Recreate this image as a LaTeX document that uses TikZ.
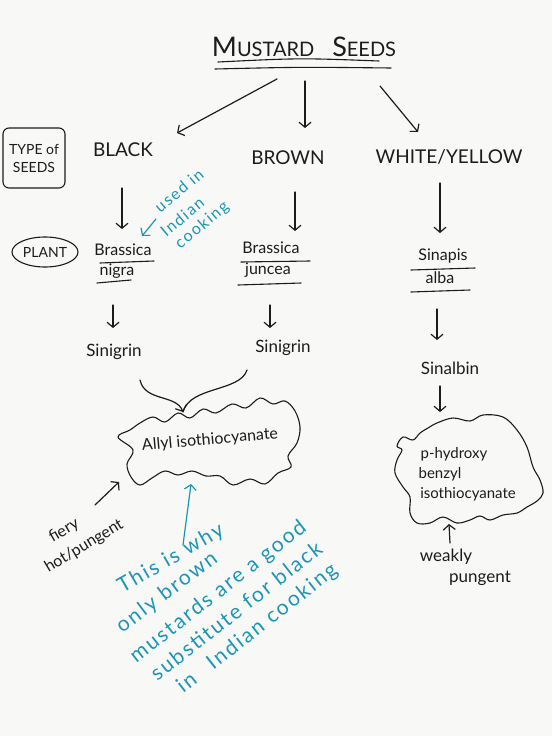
\documentclass[tikz,border=0pt]{standalone}
\usepackage{fontspec}
\setmainfont{Lato}
\newfontfamily\notefont{Lato}[LetterSpace=10]
\usetikzlibrary{arrows.meta,shapes.geometric}
\definecolor{ink}{RGB}{28,28,28}
\definecolor{tealink}{RGB}{28,150,182}
\definecolor{paper}{RGB}{248,248,247}
\begin{document}
\begin{tikzpicture}[x=1pt,y=-1pt,line width=1.2pt,line cap=round,
  lbl/.style={inner sep=1pt,text=ink,font=\fontsize{16}{18}\selectfont},
  capl/.style={lbl,font=\fontsize{19}{22}\selectfont},
  note/.style={inner sep=0pt,text=tealink,font=\notefont\fontsize{21}{24}\selectfont,anchor=base west},
  arr/.style={draw=ink,-{Straight Barb[length=5pt,width=12pt,line width=1.2pt]}},
  tarr/.style={draw=tealink,-{Straight Barb[length=5pt,width=12pt,line width=1.2pt]}},
  ul/.style={draw=ink,line width=1.1pt},
  cloud/.style={draw=ink,line width=1.1pt}]
\useasboundingbox[fill=paper] (0,0) rectangle (552,736);

% title
\node[lbl,font=\fontsize{20}{24}\selectfont] (title) at (304,47)
  {{\fontsize{27}{30}\selectfont M}USTARD\hspace{18pt}{\fontsize{27}{30}\selectfont S}EEDS};
\draw[ul] (218,62) .. controls (300,58) .. (379,61);
\draw[ul] (215,69) .. controls (300,67) .. (391,68);

% seed types
\node[capl] (black) at (123,150) {BLACK};
\node[capl] (brown) at (288,158) {BROWN};
\node[capl] (white) at (449,157) {WHITE/YELLOW};

\coordinate (t1) at (277,79);
\coordinate (t1e) at (177,133);
\coordinate (t2) at (305,81);
\coordinate (t2e) at (305,128);
\coordinate (t3) at (380,86);
\coordinate (t3e) at (418,132);
\draw[arr] (t1) -- (t1e);
\draw[arr] (t2) -- (t2e);
\draw[arr] (t3) -- (t3e);

% side labels
\node[draw=ink,rounded corners=6pt,line width=1.1pt,minimum width=62pt,minimum height=60pt,
  inner sep=1pt,text=ink,align=center,font=\fontsize{14}{18}\selectfont] (type) at (34,158)
  {TYPE of\\SEEDS};
\node[draw=ink,ellipse,line width=1.1pt,minimum width=66pt,minimum height=30pt,
  inner sep=1pt,text=ink,font=\fontsize{14}{16}\selectfont] (plant) at (45,252) {PLANT};

% plants
\node[lbl] (nigra1) at (123,250) {Brassica};
\node[lbl] (nigra2) at (117,271) {nigra};
\draw[ul] (100,263) -- (154,261);
\draw[ul] (97,283) -- (131,280);

\node[lbl] (jun1) at (271,248) {Brassica};
\node[lbl] (jun2) at (268,270) {juncea};
\draw[ul] (241,262) -- (310,261);
\draw[ul] (238,285) -- (301,283);

\node[lbl] (sin1) at (443,256) {Sinapis};
\node[lbl] (sin2) at (440,278) {alba};
\draw[ul] (411,270) -- (475,268);
\draw[ul] (411,292) -- (470,290);

\coordinate (b1) at (122,188); \coordinate (b1e) at (122,229);
\coordinate (b2) at (295,192); \coordinate (b2e) at (295,231);
\coordinate (b3) at (440,183); \coordinate (b3e) at (440,233);
\draw[arr] (b1) -- (b1e);
\draw[arr] (b2) -- (b2e);
\draw[arr] (b3) -- (b3e);

% used in indian cooking
\node[note,font=\notefont\fontsize{16}{20}\selectfont,rotate=40] (used1) at (160,214) {used in};
\node[note,font=\notefont\fontsize{16}{20}\selectfont,rotate=40] (used2) at (166,238) {Indian};
\node[note,font=\notefont\fontsize{16}{20}\selectfont,rotate=40] (used3) at (180,250) {cooking};
\coordinate (u1) at (156,219); \coordinate (u1e) at (142,236);
\draw[tarr] (u1) -- (u1e);

% glucosinolates
\node[lbl,font=\fontsize{17}{19}\selectfont] (sg1) at (114,352) {Sinigrin};
\node[lbl,font=\fontsize{17}{19}\selectfont] (sg2) at (283,348) {Sinigrin};
\node[lbl,font=\fontsize{17}{19}\selectfont] (salb) at (450,368) {Sinalbin};

\coordinate (c1) at (113,305); \coordinate (c1e) at (113,328);
\coordinate (c2) at (270,305); \coordinate (c2e) at (270,328);
\coordinate (c3) at (437,309); \coordinate (c3e) at (437,340);
\draw[arr] (c1) -- (c1e);
\draw[arr] (c2) -- (c2e);
\draw[arr] (c3) -- (c3e);

% allyl cloud
\draw[cloud] plot[smooth cycle,tension=0.6] coordinates {
 (140,423) (153,417) (165,422) (178,413) (190,418) (203,409) (216,413) (232,404)
 (246,408) (260,398) (273,404) (285,401) (295,411) (300,427) (297,443) (288,456)
 (291,467) (278,473) (265,484) (250,479) (233,485) (220,476) (206,476) (192,471)
 (178,475) (165,471) (152,478) (140,485) (131,477) (127,464) (133,450) (118,437)
 (130,430)};
\node[lbl,font=\fontsize{16}{18}\selectfont,rotate=5] (allyl) at (210,440) {Allyl isothiocyanate};

\coordinate (s1) at (140,380);
\coordinate (s2) at (247,370);
\coordinate (sm) at (183,412);
\draw[arr] (s1) .. controls (145,402) and (176,394) .. (sm);
\draw[ink] (s2) .. controls (240,392) and (190,386) .. (sm);

% benzyl cloud
\draw[cloud] plot[smooth cycle,tension=0.6] coordinates {
 (420,433) (428,428) (437,423) (453,418) (470,421) (483,415) (503,417) (517,430)
 (527,447) (533,467) (540,480) (543,493) (537,501) (527,507) (517,513) (503,515)
 (490,520) (480,516) (470,520) (457,523) (443,517) (430,523) (417,523) (410,513)
 (410,497) (403,487) (395,473) (397,460) (402,450) (397,446) (403,437) (413,440)};
\node[lbl,font=\fontsize{15}{17}\selectfont] (bz1) at (454,454) {p-hydroxy};
\node[lbl,font=\fontsize{15}{17}\selectfont] (bz2) at (440,474) {benzyl};
\node[lbl,font=\fontsize{15}{17}\selectfont] (bz3) at (468,494) {isothiocyanate};

\coordinate (d3) at (440,386); \coordinate (d3e) at (440,412);
\draw[arr] (d3) -- (d3e);

% pungency notes
\node[lbl,font=\fontsize{17}{19}\selectfont] (weak1) at (446,557) {weakly};
\node[lbl,font=\fontsize{17}{19}\selectfont] (weak2) at (480,578) {pungent};
\coordinate (w1) at (450,543); \coordinate (w1e) at (449,524);
\draw[arr] (w1) -- (w1e);

\node[lbl,inner sep=0pt,anchor=base west,font=\fontsize{16}{18}\selectfont,rotate=30] (fiery) at (52,543) {fiery};
\node[lbl,inner sep=0pt,anchor=base west,font=\fontsize{16}{18}\selectfont,rotate=31] (hot) at (48,573) {hot/pungent};
\coordinate (f1) at (95,505); \coordinate (f1e) at (119,482);
\draw[arr] (f1) -- (f1e);

% teal explanation
\coordinate (e1) at (183,545); \coordinate (e1e) at (191,484);
\draw[tarr] (e1) -- (e1e);
\node[note,rotate=30] (ex1) at (122,594) {This is why};
\node[note,rotate=37] (ex2) at (122,634) {only brown};
\node[note,rotate=38] (ex3) at (136,664) {mustards are a good};
\node[note,rotate=38] (ex4) at (157,682) {substitute for black};
\node[note,rotate=38] (ex5) at (183,694) {in};
\node[note,rotate=38] (ex6) at (213,671) {Indian cooking};
\end{tikzpicture}
\end{document}
